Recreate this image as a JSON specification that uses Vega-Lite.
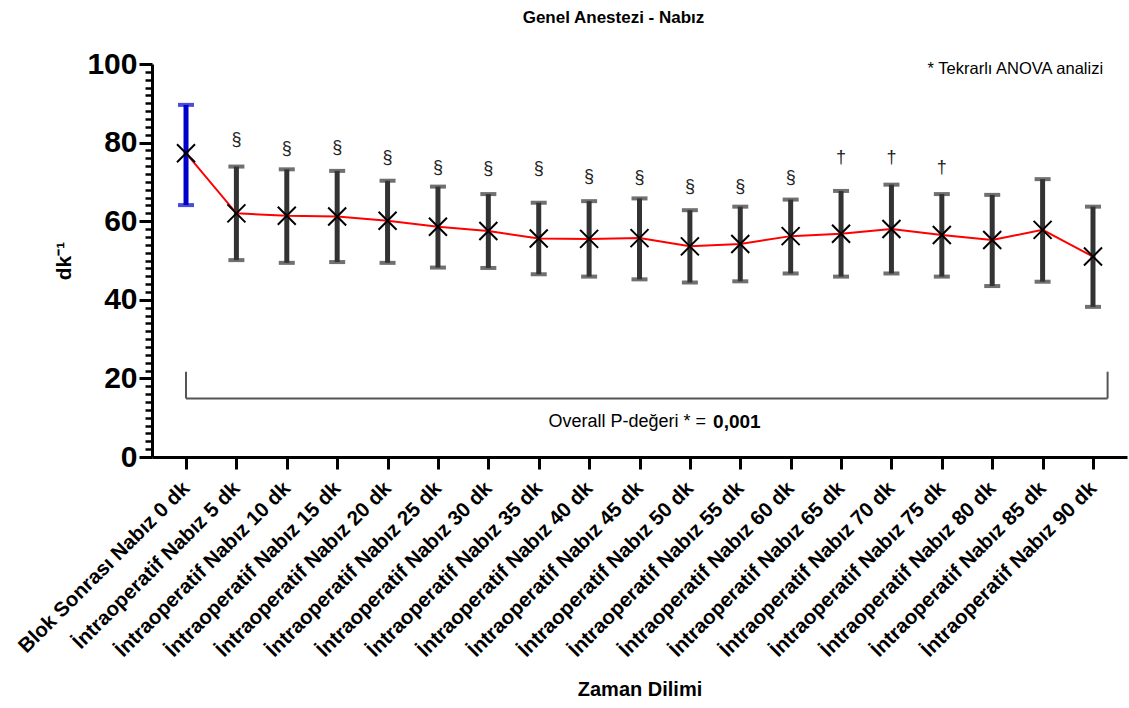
{
  "$schema": "https://vega.github.io/schema/vega-lite/v6.json",
  "width": 975,
  "height": 393,
  "autosize": {"type": "none"},
  "padding": {"left": 152, "top": 64, "right": 2, "bottom": 251},
  "background": "white",
  "config": {
    "font": "Liberation Sans",
    "view": {"stroke": null},
    "axis": {"grid": false}
  },
  "title": {
    "text": "Genel Anestezi - Nabız",
    "fontSize": 17,
    "fontWeight": "bold",
    "color": "#000000",
    "offset": 22,
    "dx": -26,
    "anchor": "middle"
  },
  "datasets": {
    "veri": [
      {"zaman": "Blok Sonrası Nabız 0 dk", "faz": "Blok", "ort": 77.3, "alt": 64.1, "ust": 89.6, "isaret": null, "isaretY": null},
      {"zaman": "İntraoperatif Nabız 5 dk", "faz": "İntraoperatif", "ort": 62.0, "alt": 50.1, "ust": 73.9, "isaret": "§", "isaretY": 80.7},
      {"zaman": "İntraoperatif Nabız 10 dk", "faz": "İntraoperatif", "ort": 61.4, "alt": 49.4, "ust": 73.2, "isaret": "§", "isaretY": 78.3},
      {"zaman": "İntraoperatif Nabız 15 dk", "faz": "İntraoperatif", "ort": 61.2, "alt": 49.6, "ust": 72.8, "isaret": "§", "isaretY": 78.5},
      {"zaman": "İntraoperatif Nabız 20 dk", "faz": "İntraoperatif", "ort": 60.1, "alt": 49.4, "ust": 70.3, "isaret": "§", "isaretY": 76.0},
      {"zaman": "İntraoperatif Nabız 25 dk", "faz": "İntraoperatif", "ort": 58.6, "alt": 48.2, "ust": 68.8, "isaret": "§", "isaretY": 73.5},
      {"zaman": "İntraoperatif Nabız 30 dk", "faz": "İntraoperatif", "ort": 57.5, "alt": 48.1, "ust": 66.9, "isaret": "§", "isaretY": 73.2},
      {"zaman": "İntraoperatif Nabız 35 dk", "faz": "İntraoperatif", "ort": 55.6, "alt": 46.5, "ust": 64.7, "isaret": "§", "isaretY": 73.2},
      {"zaman": "İntraoperatif Nabız 40 dk", "faz": "İntraoperatif", "ort": 55.5, "alt": 45.9, "ust": 65.1, "isaret": "§", "isaretY": 71.2},
      {"zaman": "İntraoperatif Nabız 45 dk", "faz": "İntraoperatif", "ort": 55.7, "alt": 45.2, "ust": 65.8, "isaret": "§", "isaretY": 70.9},
      {"zaman": "İntraoperatif Nabız 50 dk", "faz": "İntraoperatif", "ort": 53.6, "alt": 44.4, "ust": 62.8, "isaret": "§", "isaretY": 68.6},
      {"zaman": "İntraoperatif Nabız 55 dk", "faz": "İntraoperatif", "ort": 54.2, "alt": 44.7, "ust": 63.7, "isaret": "§", "isaretY": 68.6},
      {"zaman": "İntraoperatif Nabız 60 dk", "faz": "İntraoperatif", "ort": 56.2, "alt": 46.7, "ust": 65.5, "isaret": "§", "isaretY": 70.9},
      {"zaman": "İntraoperatif Nabız 65 dk", "faz": "İntraoperatif", "ort": 56.8, "alt": 45.9, "ust": 67.7, "isaret": "†", "isaretY": 76.0},
      {"zaman": "İntraoperatif Nabız 70 dk", "faz": "İntraoperatif", "ort": 58.0, "alt": 46.7, "ust": 69.3, "isaret": "†", "isaretY": 76.0},
      {"zaman": "İntraoperatif Nabız 75 dk", "faz": "İntraoperatif", "ort": 56.5, "alt": 45.9, "ust": 66.9, "isaret": "†", "isaretY": 73.5},
      {"zaman": "İntraoperatif Nabız 80 dk", "faz": "İntraoperatif", "ort": 55.2, "alt": 43.5, "ust": 66.7, "isaret": null, "isaretY": null},
      {"zaman": "İntraoperatif Nabız 85 dk", "faz": "İntraoperatif", "ort": 57.8, "alt": 44.6, "ust": 70.7, "isaret": null, "isaretY": null},
      {"zaman": "İntraoperatif Nabız 90 dk", "faz": "İntraoperatif", "ort": 51.0, "alt": 38.2, "ust": 63.7, "isaret": null, "isaretY": null}
    ],
    "braket": [
      {"bx": 0, "bx2": 0, "by": 14.9, "by2": 21.7},
      {"bx": 0, "bx2": 18.29, "by": 14.9, "by2": 14.9},
      {"bx": 18.29, "bx2": 18.29, "by": 14.9, "by2": 21.7}
    ],
    "notlar": [
      {"bx": 18.2, "by": 98.7, "metin": "* Tekrarlı ANOVA analizi", "tur": "not"},
      {"bx": 10.32, "by": 8.9, "metin": "Overall P-değeri * =", "tur": "p"},
      {"bx": 10.46, "by": 8.9, "metin": "0,001", "tur": "pdeger"}
    ]
  },
  "layer": [
    {
      "data": {"name": "veri"},
      "encoding": {
        "x": {
          "field": "zaman",
          "type": "nominal",
          "sort": null,
          "scale": {"type": "point", "padding": 0.675},
          "axis": {
            "title": "Zaman Dilimi",
            "titleFontSize": 20,
            "titleFontWeight": "bold",
            "titleColor": "#000000",
            "titlePadding": 22,
            "labelAngle": -45,
            "labelAlign": "right",
            "labelBaseline": "middle",
            "labelFontSize": 20.5,
            "labelFontWeight": "bold",
            "labelColor": "#000000",
            "labelPadding": 16,
            "labelLimit": 400,
            "labelOverlap": false,
            "domainColor": "#000000",
            "domainWidth": 3,
            "tickColor": "#000000",
            "tickWidth": 3,
            "tickSize": 12
          }
        }
      },
      "layer": [
        {
          "mark": {"type": "rule", "strokeWidth": 5},
          "encoding": {
            "y": {
              "field": "alt",
              "type": "quantitative",
              "scale": {"domain": [0, 100], "nice": false},
              "axis": {
                "values": [0, 2, 4, 6, 8, 10, 12, 14, 16, 18, 20, 22, 24, 26, 28, 30, 32, 34, 36, 38, 40, 42, 44, 46, 48, 50, 52, 54, 56, 58, 60, 62, 64, 66, 68, 70, 72, 74, 76, 78, 80, 82, 84, 86, 88, 90, 92, 94, 96, 98, 100],
                "tickCount": 200,
                "format": "d",
                "labelExpr": "datum.value % 20 == 0 ? datum.label : ''",
                "labelOverlap": false,
                "title": "dk⁻¹",
                "titleFontSize": 21,
                "titleFontWeight": "bold",
                "titleColor": "#000000",
                "titlePadding": 12,
                "labelFontSize": 30,
                "labelFontWeight": "bold",
                "labelColor": "#000000",
                "labelPadding": 2,
                "domainColor": "#000000",
                "domainWidth": 3,
                "tickColor": "#000000",
                "tickWidth": {"condition": {"test": "datum.value % 20 == 0", "value": 3}, "value": 2.5},
                "tickSize": {"condition": {"test": "datum.value % 20 == 0", "value": 13}, "value": 7}
              }
            },
            "y2": {"field": "ust"},
            "color": {
              "field": "faz",
              "type": "nominal",
              "scale": {"domain": ["Blok", "İntraoperatif"], "range": ["#0000cc", "#333333"]},
              "legend": null
            }
          }
        },
        {
          "mark": {"type": "tick", "size": 16, "thickness": 4},
          "encoding": {
            "y": {"field": "alt", "type": "quantitative"},
            "color": {"field": "faz", "type": "nominal", "legend": null}
          }
        },
        {
          "mark": {"type": "tick", "size": 16, "thickness": 4},
          "encoding": {
            "y": {"field": "ust", "type": "quantitative"},
            "color": {"field": "faz", "type": "nominal", "legend": null}
          }
        },
        {
          "mark": {"type": "line", "color": "#ff0000", "strokeWidth": 2},
          "encoding": {
            "y": {"field": "ort", "type": "quantitative"}
          }
        },
        {
          "mark": {"type": "point", "shape": "M-1,-1L1,1M1,-1L-1,1", "filled": false, "stroke": "#000000", "strokeWidth": 2, "size": 324, "opacity": 1},
          "encoding": {
            "y": {"field": "ort", "type": "quantitative"}
          }
        },
        {
          "mark": {"type": "text", "fontSize": 18, "color": "#222222", "baseline": "middle", "align": "center"},
          "transform": [{"filter": "datum.isaret != null"}],
          "encoding": {
            "y": {"field": "isaretY", "type": "quantitative"},
            "text": {"field": "isaret"}
          }
        }
      ]
    },
    {
      "encoding": {
        "x": {
          "field": "bx",
          "type": "quantitative",
          "scale": {"domain": [-0.675, 18.675], "nice": false, "zero": false},
          "axis": null
        }
      },
      "layer": [
        {
          "data": {"name": "braket"},
          "mark": {"type": "rule", "color": "#555555", "strokeWidth": 2},
          "encoding": {
            "x2": {"field": "bx2"},
            "y": {"field": "by", "type": "quantitative"},
            "y2": {"field": "by2"}
          }
        },
        {
          "data": {"name": "notlar"},
          "transform": [{"filter": "datum.tur == 'not'"}],
          "mark": {"type": "text", "fontSize": 16.5, "color": "#000000", "align": "right", "baseline": "middle"},
          "encoding": {
            "y": {"field": "by", "type": "quantitative"},
            "text": {"field": "metin"}
          }
        },
        {
          "data": {"name": "notlar"},
          "transform": [{"filter": "datum.tur == 'p'"}],
          "mark": {"type": "text", "fontSize": 18, "color": "#000000", "align": "right", "baseline": "middle"},
          "encoding": {
            "y": {"field": "by", "type": "quantitative"},
            "text": {"field": "metin"}
          }
        },
        {
          "data": {"name": "notlar"},
          "transform": [{"filter": "datum.tur == 'pdeger'"}],
          "mark": {"type": "text", "fontSize": 19, "fontWeight": "bold", "color": "#000000", "align": "left", "baseline": "middle"},
          "encoding": {
            "y": {"field": "by", "type": "quantitative"},
            "text": {"field": "metin"}
          }
        }
      ]
    }
  ],
  "resolve": {"scale": {"x": "independent"}}
}
